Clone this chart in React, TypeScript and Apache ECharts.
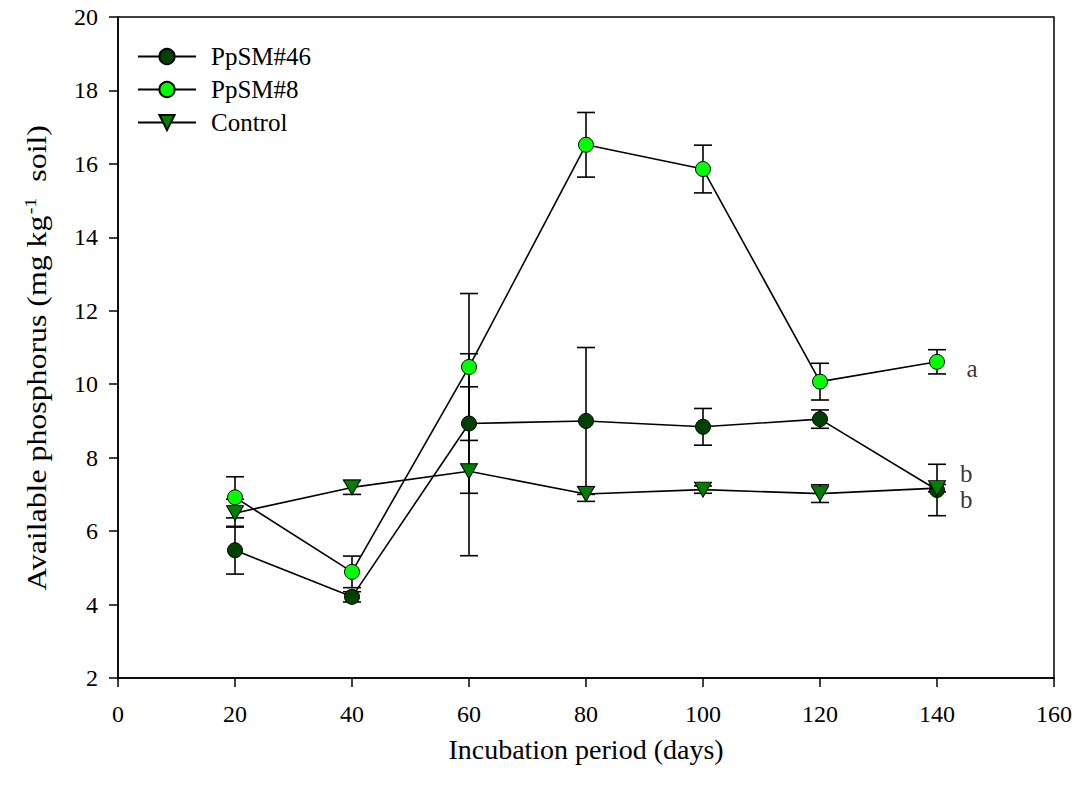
import React, { useEffect, useRef } from "react";
import * as echarts from "echarts";

const days = [20, 40, 60, 80, 100, 120, 140];
const ppsm46 = [5.48, 4.21, 8.93, 9.0, 8.84, 9.05, 7.12];
const ppsm46Err = [0.65, 0.14, 1.9, 2.0, 0.5, 0.25, 0.7];
const ppsm8 = [6.92, 4.89, 10.47, 16.52, 15.86, 10.07, 10.61];
const ppsm8Err = [0.56, 0.43, 2.0, 0.88, 0.65, 0.5, 0.33];
const control = [6.49, 7.19, 7.63, 7.01, 7.13, 7.02, 7.17];
const controlErr = [0.38, 0.19, 2.3, 0.2, 0.1, 0.24, 0.1];

const seriesNames = ["PpSM#46", "PpSM#8", "Control"];

const xTicks = { min: 0, max: 160, interval: 20 };
const yTicks = { min: 2, max: 20, interval: 2 };

const annotX = [146, 145, 145];
const annotY = [10.44, 7.58, 6.85];
const annotText = ["a", "b", "b"];

const FONT = "'Liberation Serif', 'Times New Roman', serif";

function errData(vals: number[], errs: number[]) {
  return days.map((d, i) => [d, vals[i] - errs[i], vals[i] + errs[i]]);
}

function errSeries(vals: number[], errs: number[], z: number) {
  return {
    type: "custom",
    z,
    silent: true,
    data: errData(vals, errs),
    encode: { x: 0, y: [1, 2] },
    renderItem: (params: any, api: any) => {
      const x = api.value(0);
      const lo = api.coord([x, api.value(1)]);
      const hi = api.coord([x, api.value(2)]);
      const w = 9;
      const st = { stroke: "#000", lineWidth: 1.6 };
      return {
        type: "group",
        children: [
          { type: "line", shape: { x1: lo[0], y1: lo[1], x2: hi[0], y2: hi[1] }, style: st },
          { type: "line", shape: { x1: hi[0] - w, y1: hi[1], x2: hi[0] + w, y2: hi[1] }, style: st },
          { type: "line", shape: { x1: lo[0] - w, y1: lo[1], x2: lo[0] + w, y2: lo[1] }, style: st },
        ],
      };
    },
  };
}

export default function App() {
  const ref = useRef<HTMLDivElement>(null);
  useEffect(() => {
    if (!ref.current) return;
    const chart = echarts.init(ref.current, undefined, { renderer: "svg" });
    const lineStyle = { color: "#000", width: 1.6 };
    chart.setOption({
      animation: false,
      textStyle: { fontFamily: FONT },
      grid: { left: 118, right: 27, top: 17, bottom: 114, show: true, borderColor: "#000", borderWidth: 1.5 },
      legend: {
        orient: "vertical",
        left: 137,
        top: 44,
        padding: 0,
        itemWidth: 58,
        itemHeight: 19,
        itemGap: 8,
        data: seriesNames,
        formatter: (n: string) => "{s|" + n + "}",
        textStyle: {
          fontFamily: FONT,
          fontSize: 25,
          color: "#000",
          rich: { s: { fontFamily: FONT, fontSize: 25, color: "#000", padding: [0, 0, 0, 10] } },
        },
      },
      xAxis: {
        type: "value",
        min: xTicks.min,
        max: xTicks.max,
        interval: xTicks.interval,
        splitLine: { show: false },
        axisLine: { show: true, lineStyle: { color: "#000", width: 1.5 } },
        axisTick: { show: true, inside: false, length: 9, lineStyle: { color: "#000", width: 1.5 } },
        axisLabel: { color: "#000", fontFamily: FONT, fontSize: 24, margin: 24 },
        name: "Incubation period (days)",
        nameLocation: "middle",
        nameGap: 57,
        nameTextStyle: { color: "#000", fontFamily: FONT, fontSize: 28 },
      },
      yAxis: {
        type: "value",
        min: yTicks.min,
        max: yTicks.max,
        interval: yTicks.interval,
        splitLine: { show: false },
        axisLine: { show: true, lineStyle: { color: "#000", width: 1.5 } },
        axisTick: { show: true, inside: false, length: 9, lineStyle: { color: "#000", width: 1.5 } },
        axisLabel: { color: "#000", fontFamily: FONT, fontSize: 24, margin: 20 },
      },
      graphic: [
        {
          type: "text",
          x: 37,
          y: 358,
          rotation: Math.PI / 2,
          scaleX: 1.18,
          style: {
            text: "{t|Available phosphorus (mg kg}{sup|-1}{t|  soil)}",
            font: "27px 'Liberation Serif', serif",
            fontFamily: FONT,
            fontSize: 27,
            fill: "#000",
            align: "center",
            verticalAlign: "middle",
            rich: {
              t: { font: "27px 'Liberation Serif', serif", fontFamily: FONT, fontSize: 27, fill: "#000", color: "#000" },
              sup: { font: "17px 'Liberation Serif', serif", fontFamily: FONT, fontSize: 17, fill: "#000", color: "#000", verticalAlign: "top", padding: [0, 0, 14, 1] },
            },
          },
        },
      ],
      series: [
        errSeries(ppsm46, ppsm46Err, 1),
        errSeries(ppsm8, ppsm8Err, 1),
        errSeries(control, controlErr, 1),
        {
          name: seriesNames[0],
          type: "line",
          z: 2,
          data: days.map((d, i) => [d, ppsm46[i]]),
          symbol: "circle",
          symbolSize: 15,
          lineStyle,
          itemStyle: { color: "#004000", borderColor: "#000", borderWidth: 1 },
        },
        {
          name: seriesNames[1],
          type: "line",
          z: 3,
          data: days.map((d, i) => [d, ppsm8[i]]),
          symbol: "circle",
          symbolSize: 15,
          lineStyle,
          itemStyle: { color: "#00FF00", borderColor: "#000", borderWidth: 1 },
        },
        {
          name: seriesNames[2],
          type: "line",
          z: 4,
          data: days.map((d, i) => [d, control[i]]),
          symbol: "triangle",
          symbolRotate: 180,
          symbolSize: [17, 15],
          lineStyle,
          itemStyle: { color: "#008000", borderColor: "#000", borderWidth: 1 },
        },
        {
          type: "scatter",
          z: 5,
          silent: true,
          symbolSize: 0,
          data: annotX.map((x, i) => [x, annotY[i], annotText[i]]),
          label: {
            show: true,
            position: "inside",
            formatter: (p: any) => p.value[2],
            color: "#000",
            textBorderWidth: 0,
            fontFamily: FONT,
            fontSize: 25,
          },
        },
      ],
    });
    return () => chart.dispose();
  }, []);
  return <div ref={ref} style={{ width: 1081, height: 792, position: "absolute", left: 0, top: 0 }} />;
}
